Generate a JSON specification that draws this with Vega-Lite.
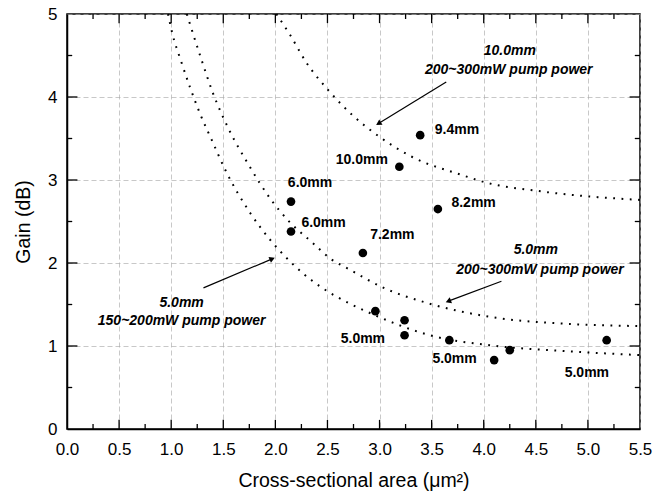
{
  "$schema": "https://vega.github.io/schema/vega-lite/v6.json",
  "width": 573,
  "height": 415,
  "autosize": {"type": "none"},
  "padding": {"left": 67, "top": 14, "right": 18, "bottom": 70},
  "background": "white",
  "config": {
    "font": "Liberation Sans",
    "view": {"stroke": "black", "strokeWidth": 1.5},
    "axis": {
      "domainColor": "black",
      "domainWidth": 1.5,
      "tickColor": "black",
      "tickWidth": 1.3,
      "labelColor": "black",
      "titleColor": "black",
      "labelFont": "Liberation Sans",
      "titleFont": "Liberation Sans",
      "labelFontSize": 17,
      "titleFontSize": 19.5,
      "titleFontWeight": "normal",
      "gridColor": "#a8a8a8",
      "gridDash": [5, 3],
      "gridWidth": 0.8
    }
  },
  "datasets": {
    "points": [
      {"x": 2.15, "y": 2.74}, {"x": 2.15, "y": 2.38}, {"x": 2.84, "y": 2.12},
      {"x": 3.39, "y": 3.54}, {"x": 3.19, "y": 3.16}, {"x": 3.56, "y": 2.65},
      {"x": 2.96, "y": 1.42}, {"x": 3.24, "y": 1.31}, {"x": 3.24, "y": 1.13},
      {"x": 3.67, "y": 1.07}, {"x": 4.10, "y": 0.83}, {"x": 4.25, "y": 0.95},
      {"x": 5.18, "y": 1.07}
    ],
    "curves": [
      {"curve": "A", "x": 0.97, "y": 5.0}, {"curve": "A", "x": 1.01, "y": 4.77}, {"curve": "A", "x": 1.09, "y": 4.45},
      {"curve": "A", "x": 1.18, "y": 4.12}, {"curve": "A", "x": 1.28, "y": 3.79}, {"curve": "A", "x": 1.39, "y": 3.48},
      {"curve": "A", "x": 1.52, "y": 3.12}, {"curve": "A", "x": 1.76, "y": 2.60}, {"curve": "A", "x": 1.95, "y": 2.28},
      {"curve": "A", "x": 2.10, "y": 2.07}, {"curve": "A", "x": 2.27, "y": 1.87}, {"curve": "A", "x": 2.45, "y": 1.70},
      {"curve": "A", "x": 2.70, "y": 1.52}, {"curve": "A", "x": 2.94, "y": 1.38}, {"curve": "A", "x": 3.48, "y": 1.13},
      {"curve": "A", "x": 4.12, "y": 1.00}, {"curve": "A", "x": 4.76, "y": 0.94}, {"curve": "A", "x": 5.5, "y": 0.89},
      {"curve": "B", "x": 1.15, "y": 5.0}, {"curve": "B", "x": 1.28, "y": 4.49}, {"curve": "B", "x": 1.40, "y": 4.05},
      {"curve": "B", "x": 1.55, "y": 3.62}, {"curve": "B", "x": 1.74, "y": 3.19}, {"curve": "B", "x": 1.96, "y": 2.76},
      {"curve": "B", "x": 2.11, "y": 2.53}, {"curve": "B", "x": 2.36, "y": 2.24}, {"curve": "B", "x": 2.53, "y": 2.05},
      {"curve": "B", "x": 2.70, "y": 1.93}, {"curve": "B", "x": 3.04, "y": 1.70}, {"curve": "B", "x": 3.48, "y": 1.51},
      {"curve": "B", "x": 4.12, "y": 1.34}, {"curve": "B", "x": 4.76, "y": 1.27}, {"curve": "B", "x": 5.5, "y": 1.24},
      {"curve": "C", "x": 2.01, "y": 5.0}, {"curve": "C", "x": 2.14, "y": 4.75}, {"curve": "C", "x": 2.30, "y": 4.41},
      {"curve": "C", "x": 2.51, "y": 4.08}, {"curve": "C", "x": 2.75, "y": 3.77}, {"curve": "C", "x": 3.00, "y": 3.52},
      {"curve": "C", "x": 3.31, "y": 3.28}, {"curve": "C", "x": 3.79, "y": 3.06}, {"curve": "C", "x": 3.99, "y": 2.98},
      {"curve": "C", "x": 4.57, "y": 2.86}, {"curve": "C", "x": 5.5, "y": 2.76}
    ],
    "arrows": [
      {"id": 1, "x": 3.64, "y": 4.18, "x2": 2.99, "y2": 3.68},
      {"id": 2, "x": 4.17, "y": 1.78, "x2": 3.66, "y2": 1.54},
      {"id": 3, "x": 1.31, "y": 1.70, "x2": 1.97, "y2": 2.05}
    ],
    "xticks": [
      {"v": 0.25, "a": 0, "b": 0.06}, {"v": 0.5, "a": 0, "b": 0.11}, {"v": 0.75, "a": 0, "b": 0.06},
      {"v": 1, "a": 0, "b": 0.11}, {"v": 1.25, "a": 0, "b": 0.06}, {"v": 1.5, "a": 0, "b": 0.11}, {"v": 1.75, "a": 0, "b": 0.06},
      {"v": 2, "a": 0, "b": 0.11}, {"v": 2.25, "a": 0, "b": 0.06}, {"v": 2.5, "a": 0, "b": 0.11}, {"v": 2.75, "a": 0, "b": 0.06},
      {"v": 3, "a": 0, "b": 0.11}, {"v": 3.25, "a": 0, "b": 0.06}, {"v": 3.5, "a": 0, "b": 0.11}, {"v": 3.75, "a": 0, "b": 0.06},
      {"v": 4, "a": 0, "b": 0.11}, {"v": 4.25, "a": 0, "b": 0.06}, {"v": 4.5, "a": 0, "b": 0.11}, {"v": 4.75, "a": 0, "b": 0.06},
      {"v": 5, "a": 0, "b": 0.11}, {"v": 5.25, "a": 0, "b": 0.06},
      {"v": 0.25, "a": 5, "b": 4.94}, {"v": 0.5, "a": 5, "b": 4.89}, {"v": 0.75, "a": 5, "b": 4.94},
      {"v": 1, "a": 5, "b": 4.89}, {"v": 1.25, "a": 5, "b": 4.94}, {"v": 1.5, "a": 5, "b": 4.89}, {"v": 1.75, "a": 5, "b": 4.94},
      {"v": 2, "a": 5, "b": 4.89}, {"v": 2.25, "a": 5, "b": 4.94}, {"v": 2.5, "a": 5, "b": 4.89}, {"v": 2.75, "a": 5, "b": 4.94},
      {"v": 3, "a": 5, "b": 4.89}, {"v": 3.25, "a": 5, "b": 4.94}, {"v": 3.5, "a": 5, "b": 4.89}, {"v": 3.75, "a": 5, "b": 4.94},
      {"v": 4, "a": 5, "b": 4.89}, {"v": 4.25, "a": 5, "b": 4.94}, {"v": 4.5, "a": 5, "b": 4.89}, {"v": 4.75, "a": 5, "b": 4.94},
      {"v": 5, "a": 5, "b": 4.89}, {"v": 5.25, "a": 5, "b": 4.94}
    ],
    "yticks": [
      {"v": 0.5, "a": 0, "b": 0.05}, {"v": 1, "a": 0, "b": 0.1}, {"v": 1.5, "a": 0, "b": 0.05},
      {"v": 2, "a": 0, "b": 0.1}, {"v": 2.5, "a": 0, "b": 0.05}, {"v": 3, "a": 0, "b": 0.1}, {"v": 3.5, "a": 0, "b": 0.05},
      {"v": 4, "a": 0, "b": 0.1}, {"v": 4.5, "a": 0, "b": 0.05},
      {"v": 0.5, "a": 5.5, "b": 5.45}, {"v": 1, "a": 5.5, "b": 5.4}, {"v": 1.5, "a": 5.5, "b": 5.45},
      {"v": 2, "a": 5.5, "b": 5.4}, {"v": 2.5, "a": 5.5, "b": 5.45}, {"v": 3, "a": 5.5, "b": 5.4}, {"v": 3.5, "a": 5.5, "b": 5.45},
      {"v": 4, "a": 5.5, "b": 5.4}, {"v": 4.5, "a": 5.5, "b": 5.45}
    ],
    "labels": [
      {"kind": "left", "x": 2.12, "y": 2.96, "text": "6.0mm"},
      {"kind": "left", "x": 2.25, "y": 2.48, "text": "6.0mm"},
      {"kind": "left", "x": 2.91, "y": 2.34, "text": "7.2mm"},
      {"kind": "left", "x": 3.53, "y": 3.60, "text": "9.4mm"},
      {"kind": "left", "x": 3.69, "y": 2.72, "text": "8.2mm"},
      {"kind": "right", "x": 3.08, "y": 3.24, "text": "10.0mm"},
      {"kind": "center", "x": 2.84, "y": 1.09, "text": "5.0mm"},
      {"kind": "center", "x": 3.72, "y": 0.84, "text": "5.0mm"},
      {"kind": "center", "x": 4.99, "y": 0.68, "text": "5.0mm"},
      {"kind": "note", "x": 4.25, "y": 4.55, "text": "10.0mm"},
      {"kind": "note", "x": 4.24, "y": 4.32, "text": "200~300mW pump power"},
      {"kind": "note", "x": 4.50, "y": 2.16, "text": "5.0mm"},
      {"kind": "note", "x": 4.54, "y": 1.92, "text": "200~300mW pump power"},
      {"kind": "note", "x": 1.10, "y": 1.52, "text": "5.0mm"},
      {"kind": "note", "x": 1.10, "y": 1.30, "text": "150~200mW pump power"}
    ]
  },
  "layer": [
    {
      "data": {"name": "curves"},
      "mark": {"type": "line", "interpolate": "monotone", "color": "black", "strokeWidth": 2, "strokeDash": [1.8, 6.5], "strokeCap": "butt"},
      "encoding": {
        "x": {
          "field": "x", "type": "quantitative",
          "scale": {"domain": [0, 5.5], "nice": false, "zero": false},
          "axis": {
            "orient": "bottom",
            "title": "Cross-sectional area (μm²)",
            "values": [0, 0.5, 1, 1.5, 2, 2.5, 3, 3.5, 4, 4.5, 5, 5.5],
            "format": ".1f",
            "ticks": false,
            "grid": true,
            "gridOpacity": 0.8,
            "labelPadding": 12,
            "titlePadding": 14,
            "labelFlush": false
          }
        },
        "y": {
          "field": "y", "type": "quantitative",
          "scale": {"domain": [0, 5], "nice": false},
          "axis": {
            "orient": "left",
            "title": "Gain (dB)",
            "values": [0, 1, 2, 3, 4, 5],
            "format": "d",
            "ticks": false,
            "grid": true,
            "gridOpacity": 0.8,
            "labelPadding": 10,
            "titlePadding": 14,
            "labelFlush": false
          }
        },
        "detail": {"field": "curve", "type": "nominal"}
      }
    },
    {
      "data": {"name": "points"},
      "mark": {"type": "point", "filled": true, "color": "black", "opacity": 1, "size": 75},
      "encoding": {
        "x": {"field": "x", "type": "quantitative", "axis": null},
        "y": {"field": "y", "type": "quantitative", "axis": null}
      }
    },
    {
      "data": {"name": "xticks"},
      "mark": {"type": "rule", "color": "black", "strokeWidth": 1.3},
      "encoding": {
        "x": {"field": "v", "type": "quantitative", "axis": null},
        "y": {"field": "a", "type": "quantitative", "axis": null},
        "y2": {"field": "b"}
      }
    },
    {
      "data": {"name": "yticks"},
      "mark": {"type": "rule", "color": "black", "strokeWidth": 1.3},
      "encoding": {
        "y": {"field": "v", "type": "quantitative", "axis": null},
        "x": {"field": "a", "type": "quantitative", "axis": null},
        "x2": {"field": "b"}
      }
    },
    {
      "data": {"name": "arrows"},
      "mark": {"type": "rule", "color": "black", "strokeWidth": 1.2},
      "encoding": {
        "x": {"field": "x", "type": "quantitative", "axis": null},
        "y": {"field": "y", "type": "quantitative", "axis": null},
        "x2": {"field": "x2"},
        "y2": {"field": "y2"}
      }
    },
    {
      "data": {"name": "arrows"},
      "transform": [{"filter": "datum.id == 1"}],
      "mark": {"type": "point", "shape": "triangle-up", "filled": true, "color": "black", "opacity": 1, "size": 40, "angle": 239},
      "encoding": {
        "x": {"field": "x2", "type": "quantitative", "axis": null},
        "y": {"field": "y2", "type": "quantitative", "axis": null}
      }
    },
    {
      "data": {"name": "arrows"},
      "transform": [{"filter": "datum.id == 2"}],
      "mark": {"type": "point", "shape": "triangle-up", "filled": true, "color": "black", "opacity": 1, "size": 40, "angle": 249},
      "encoding": {
        "x": {"field": "x2", "type": "quantitative", "axis": null},
        "y": {"field": "y2", "type": "quantitative", "axis": null}
      }
    },
    {
      "data": {"name": "arrows"},
      "transform": [{"filter": "datum.id == 3"}],
      "mark": {"type": "point", "shape": "triangle-up", "filled": true, "color": "black", "opacity": 1, "size": 40, "angle": 67},
      "encoding": {
        "x": {"field": "x2", "type": "quantitative", "axis": null},
        "y": {"field": "y2", "type": "quantitative", "axis": null}
      }
    },
    {
      "data": {"name": "labels"},
      "transform": [{"filter": "datum.kind == 'left'"}],
      "mark": {"type": "text", "align": "left", "baseline": "middle", "fontSize": 14, "fontWeight": "bold", "font": "Liberation Sans", "color": "black"},
      "encoding": {
        "x": {"field": "x", "type": "quantitative", "axis": null},
        "y": {"field": "y", "type": "quantitative", "axis": null},
        "text": {"field": "text"}
      }
    },
    {
      "data": {"name": "labels"},
      "transform": [{"filter": "datum.kind == 'right'"}],
      "mark": {"type": "text", "align": "right", "baseline": "middle", "fontSize": 14, "fontWeight": "bold", "font": "Liberation Sans", "color": "black"},
      "encoding": {
        "x": {"field": "x", "type": "quantitative", "axis": null},
        "y": {"field": "y", "type": "quantitative", "axis": null},
        "text": {"field": "text"}
      }
    },
    {
      "data": {"name": "labels"},
      "transform": [{"filter": "datum.kind == 'center'"}],
      "mark": {"type": "text", "align": "center", "baseline": "middle", "fontSize": 14, "fontWeight": "bold", "font": "Liberation Sans", "color": "black"},
      "encoding": {
        "x": {"field": "x", "type": "quantitative", "axis": null},
        "y": {"field": "y", "type": "quantitative", "axis": null},
        "text": {"field": "text"}
      }
    },
    {
      "data": {"name": "labels"},
      "transform": [{"filter": "datum.kind == 'note'"}],
      "mark": {"type": "text", "align": "center", "baseline": "middle", "fontSize": 14, "fontWeight": "bold", "fontStyle": "italic", "font": "Liberation Sans", "color": "black"},
      "encoding": {
        "x": {"field": "x", "type": "quantitative", "axis": null},
        "y": {"field": "y", "type": "quantitative", "axis": null},
        "text": {"field": "text"}
      }
    }
  ],
  "resolve": {"axis": {"x": "independent", "y": "independent"}}
}
